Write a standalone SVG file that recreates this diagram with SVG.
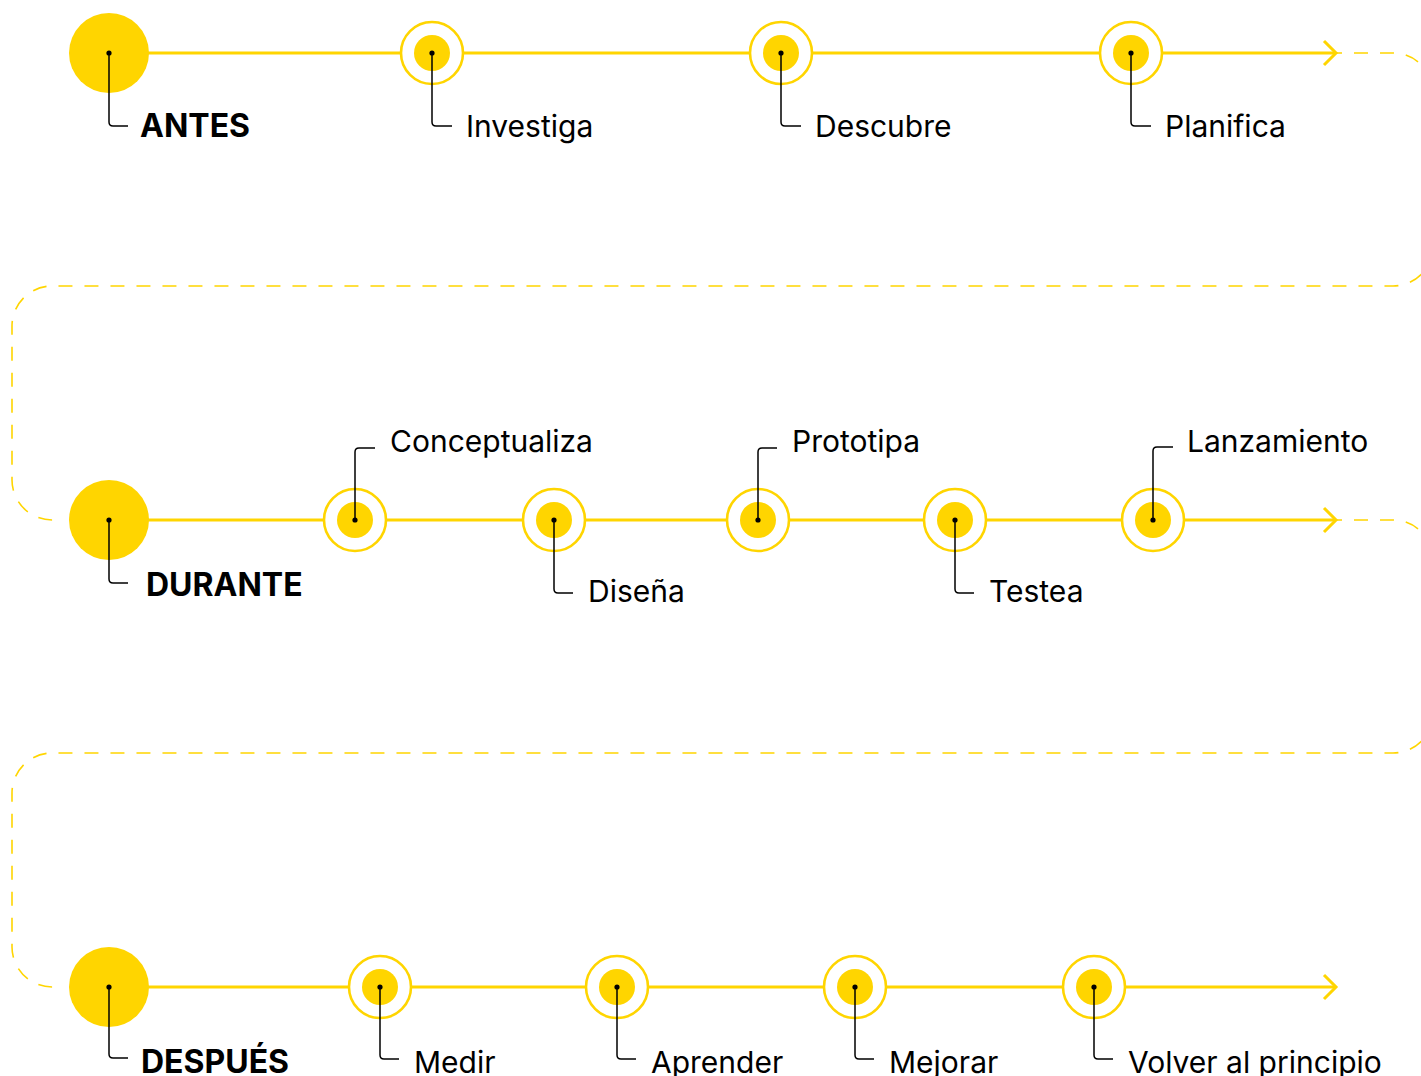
<svg xmlns="http://www.w3.org/2000/svg" width="1421" height="1076" viewBox="0 0 1421 1076">
<style>
.bg{fill:#ffffff}
.line{stroke:#FFD500;stroke-width:3;fill:none}
.arrow{stroke:#FFD500;stroke-width:3;fill:none;stroke-linecap:butt;stroke-linejoin:miter}
.dash{stroke:#FFD500;stroke-width:1.6;fill:none;stroke-dasharray:14 12}
.big{fill:#FFD500}
.ring{fill:#ffffff;stroke:#FFD500;stroke-width:2.6}
.inner{fill:#FFD500}
.dot{fill:#000000}
.lead{stroke:#000000;stroke-width:1.5;fill:none}
.lbl{font-family:Inter,"Liberation Sans",sans-serif;font-size:30px;fill:#000000}
.hd{font-family:Inter,"Liberation Sans",sans-serif;font-size:32px;font-weight:700;fill:#000000}
</style>
<rect class="bg" x="0" y="0" width="1421" height="1076"/>
<g id="connectors">
  <path class="line" d="M109 53 H1336"/>
  <path class="arrow" d="M1324 41 L1336 53 L1324 65"/>
  <path class="dash" d="M1328 53 H1393 A40 40 0 0 1 1433 93 V246 A40 40 0 0 1 1393 286 H52 A40 40 0 0 0 12 326 V480 A40 40 0 0 0 52 520 H60"/>
  <path class="line" d="M109 520 H1336"/>
  <path class="arrow" d="M1324 508 L1336 520 L1324 532"/>
  <path class="dash" d="M1328 520 H1393 A40 40 0 0 1 1433 560 V713 A40 40 0 0 1 1393 753 H52 A40 40 0 0 0 12 793 V947 A40 40 0 0 0 52 987 H60"/>
  <path class="line" d="M109 987 H1336"/>
  <path class="arrow" d="M1324 975 L1336 987 L1324 999"/>
</g>
<g id="antes">
  <circle class="big" cx="109" cy="53" r="40"/>
  <path class="lead" d="M109 53 V122 Q109 126 113 126 H128"/>
  <circle class="dot" cx="109" cy="53" r="2.6"/>
  <text class="hd" x="140" y="137">ANTES</text>
</g>
<g id="investiga">
  <circle class="ring" cx="432" cy="53" r="31"/>
  <circle class="inner" cx="432" cy="53" r="18"/>
  <path class="lead" d="M432 53 V122 Q432 126 436 126 H452"/>
  <circle class="dot" cx="432" cy="53" r="2.6"/>
  <text class="lbl" x="466" y="137">Investiga</text>
</g>
<g id="descubre">
  <circle class="ring" cx="781" cy="53" r="31"/>
  <circle class="inner" cx="781" cy="53" r="18"/>
  <path class="lead" d="M781 53 V122 Q781 126 785 126 H801"/>
  <circle class="dot" cx="781" cy="53" r="2.6"/>
  <text class="lbl" x="815" y="137">Descubre</text>
</g>
<g id="planifica">
  <circle class="ring" cx="1131" cy="53" r="31"/>
  <circle class="inner" cx="1131" cy="53" r="18"/>
  <path class="lead" d="M1131 53 V122 Q1131 126 1135 126 H1151"/>
  <circle class="dot" cx="1131" cy="53" r="2.6"/>
  <text class="lbl" x="1165" y="137">Planifica</text>
</g>
<g id="durante">
  <circle class="big" cx="109" cy="520" r="40"/>
  <path class="lead" d="M109 520 V579 Q109 583 113 583 H128"/>
  <circle class="dot" cx="109" cy="520" r="2.6"/>
  <text class="hd" x="146" y="596">DURANTE</text>
</g>
<g id="conceptualiza">
  <circle class="ring" cx="355" cy="520" r="31"/>
  <circle class="inner" cx="355" cy="520" r="18"/>
  <path class="lead" d="M355 520 V452 Q355 448 359 448 H375"/>
  <circle class="dot" cx="355" cy="520" r="2.6"/>
  <text class="lbl" x="390" y="452">Conceptualiza</text>
</g>
<g id="disena">
  <circle class="ring" cx="554" cy="520" r="31"/>
  <circle class="inner" cx="554" cy="520" r="18"/>
  <path class="lead" d="M554 520 V589 Q554 593 558 593 H573"/>
  <circle class="dot" cx="554" cy="520" r="2.6"/>
  <text class="lbl" x="588" y="602">Diseña</text>
</g>
<g id="prototipa">
  <circle class="ring" cx="758" cy="520" r="31"/>
  <circle class="inner" cx="758" cy="520" r="18"/>
  <path class="lead" d="M758 520 V452 Q758 448 762 448 H777"/>
  <circle class="dot" cx="758" cy="520" r="2.6"/>
  <text class="lbl" x="792" y="452">Prototipa</text>
</g>
<g id="testea">
  <circle class="ring" cx="955" cy="520" r="31"/>
  <circle class="inner" cx="955" cy="520" r="18"/>
  <path class="lead" d="M955 520 V589 Q955 593 959 593 H974"/>
  <circle class="dot" cx="955" cy="520" r="2.6"/>
  <text class="lbl" x="989" y="602">Testea</text>
</g>
<g id="lanzamiento">
  <circle class="ring" cx="1153" cy="520" r="31"/>
  <circle class="inner" cx="1153" cy="520" r="18"/>
  <path class="lead" d="M1153 520 V451 Q1153 447 1157 447 H1173"/>
  <circle class="dot" cx="1153" cy="520" r="2.6"/>
  <text class="lbl" x="1187" y="452">Lanzamiento</text>
</g>
<g id="despues">
  <circle class="big" cx="109" cy="987" r="40"/>
  <path class="lead" d="M109 987 V1054 Q109 1058 113 1058 H128"/>
  <circle class="dot" cx="109" cy="987" r="2.6"/>
  <text class="hd" x="141" y="1073">DESPUÉS</text>
</g>
<g id="medir">
  <circle class="ring" cx="380" cy="987" r="31"/>
  <circle class="inner" cx="380" cy="987" r="18"/>
  <path class="lead" d="M380 987 V1055 Q380 1059 384 1059 H399"/>
  <circle class="dot" cx="380" cy="987" r="2.6"/>
  <text class="lbl" x="414" y="1073">Medir</text>
</g>
<g id="aprender">
  <circle class="ring" cx="617" cy="987" r="31"/>
  <circle class="inner" cx="617" cy="987" r="18"/>
  <path class="lead" d="M617 987 V1055 Q617 1059 621 1059 H636"/>
  <circle class="dot" cx="617" cy="987" r="2.6"/>
  <text class="lbl" x="651" y="1073">Aprender</text>
</g>
<g id="mejorar">
  <circle class="ring" cx="855" cy="987" r="31"/>
  <circle class="inner" cx="855" cy="987" r="18"/>
  <path class="lead" d="M855 987 V1055 Q855 1059 859 1059 H874"/>
  <circle class="dot" cx="855" cy="987" r="2.6"/>
  <text class="lbl" x="889" y="1073">Mejorar</text>
</g>
<g id="volver">
  <circle class="ring" cx="1094" cy="987" r="31"/>
  <circle class="inner" cx="1094" cy="987" r="18"/>
  <path class="lead" d="M1094 987 V1055 Q1094 1059 1098 1059 H1113"/>
  <circle class="dot" cx="1094" cy="987" r="2.6"/>
  <text class="lbl" x="1128" y="1073">Volver al principio</text>
</g>
</svg>
